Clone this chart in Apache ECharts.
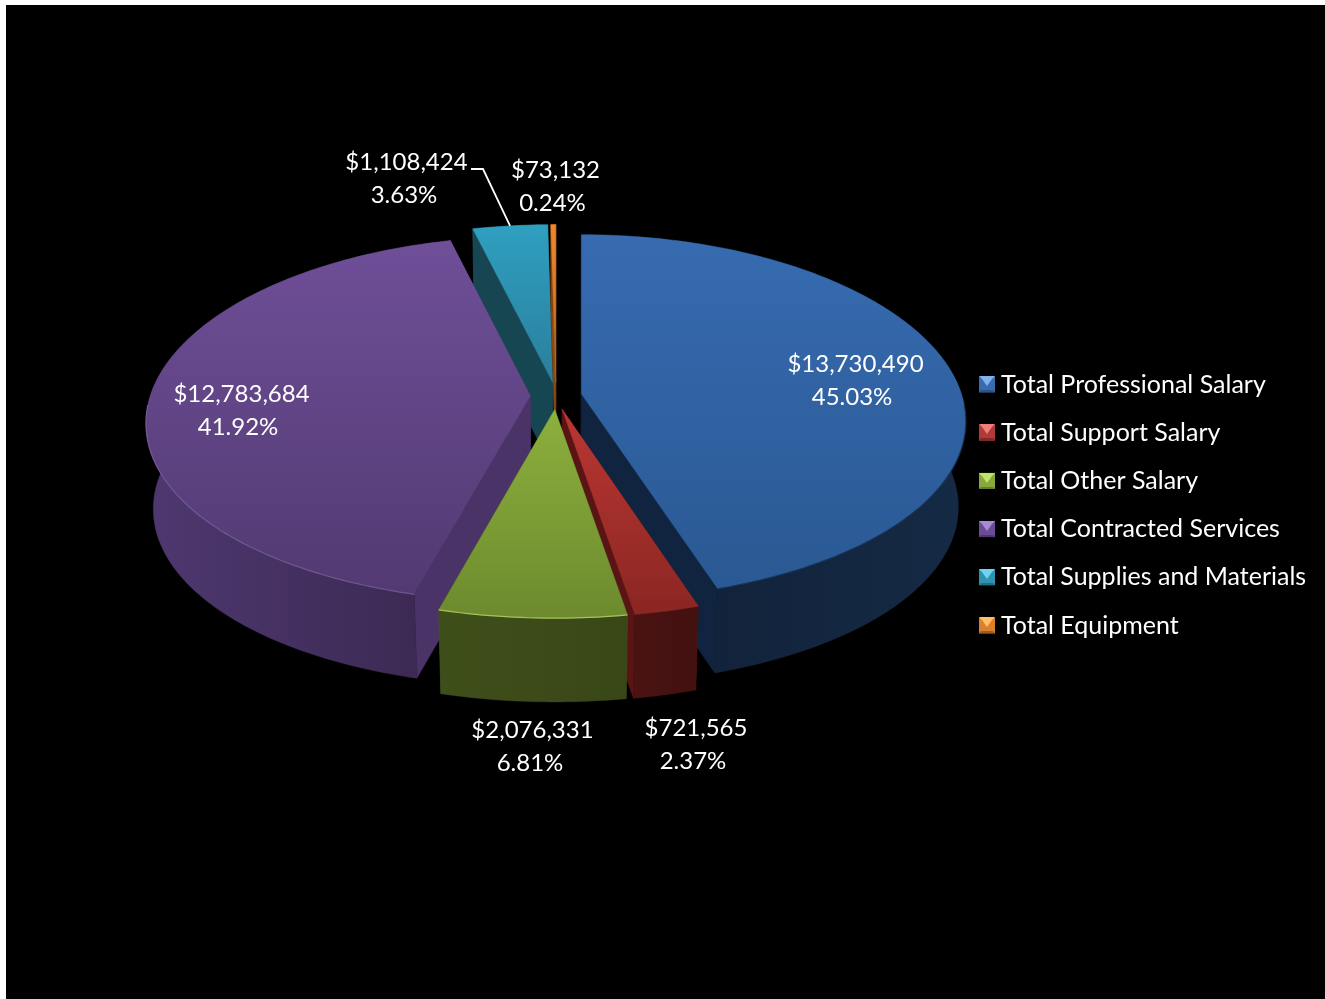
<!DOCTYPE html>
<html>
<head>
<meta charset="utf-8">
<style>
  html, body { margin: 0; padding: 0; background: #fff; }
  #chart { width: 1325px; height: 999px; }
</style>
<script src="https://cdn.jsdelivr.net/npm/echarts@6/dist/echarts.min.js"></script>
</head>
<body>
<div id="chart"></div>
<script>
// Budget categories and amounts, clockwise from twelve o'clock
const categories = [
  'Total Professional Salary',
  'Total Support Salary',
  'Total Other Salary',
  'Total Contracted Services',
  'Total Supplies and Materials',
  'Total Equipment'
];
const amounts = [13730490, 721565, 2076331, 12783684, 1108424, 73132];

// Slice colours: top face gradient, side wall gradient, cut face, rim highlight
const topColors = [
  ['#376cb2', '#295790'], ['#bb3733', '#8b2622'], ['#8db03d', '#6c8a2e'],
  ['#70509a', '#50386f'], ['#2f9fc0', '#2a7f9c'], ['#ef862a', '#b8641c']
];
const topRanges = [[226, 620], [408, 615], [408, 620], [226, 620], [226, 380], [226, 400]];
const wallColors = [
  ['#101f35', '#152a45'], ['#4a1312', '#421110'], ['#3f4f1a', '#394717'],
  ['#4e3870', '#3a2850'], ['#174552', '#174552'], ['#7f4210', '#7f4210']
];
const cutColors = ['#10243f', '#5a1413', '#4a5a1e', '#4a3366', '#174653', '#8a4a14'];
const rimColors = ['rgba(20,48,85,0.8)', null, '#a6c25a', 'rgba(132,104,171,0.65)', null, null];
const legendLight = ['#7fb2ee', '#ef7f7a', '#c3e26c', '#a98bd2', '#6fd4ee', '#ffc066'];
const legendMid = ['#3a6cad', '#b03a37', '#87a83c', '#6a4c92', '#2f93ae', '#d9812e'];
const legendDark = ['#2c5484', '#842928', '#64802c', '#4d376c', '#216d83', '#a15c1d'];

// Order in which slices are painted, far ones first
const paintOrder = [4, 5, 3, 0, 1, 2];

// Label placement: [value line x, y, percent line x, y]
const labelLayout = [
  [855.5, 364, 852, 397],
  [696, 728, 693, 761],
  [532.5, 730, 530, 763],
  [241.5, 394, 238, 427],
  [406.5, 162, 404, 195],
  [555.5, 170, 552.5, 203]
];
const leaderStart = [[471, 169], [483, 169]];

// Perspective model of the tilted disc; slices are pulled out by a screen offset
const view = {
  cx: 556, cy: 396, rx: 380, ry: 180, perspX: 0.15, perspY: 0.129,
  pullX: 25.7, pullY: 13.5, depth: 86, sinkX: 0.982, sinkY: 0.99
};
const LABEL_FONT = '24px Lato, "Open Sans", sans-serif';

const total = amounts.reduce((a, b) => a + b, 0);
const shares = amounts.map(v => v / total);

// u, v lie on the unit disc; dx, dy is the slice's pull-out in pixels
function project(u, v, dx, dy, bottom) {
  let x = view.cx + dx + view.rx * u / (1 - view.perspX * v);
  let y = view.cy + (view.ry * v + dy) / (1 - view.perspY * v);
  if (bottom) {
    x = view.cx + (x - view.cx) * view.sinkX;
    y = view.cy + (y - view.cy) * view.sinkY + view.depth;
  }
  return [x, y];
}

function sliceGeometry(i) {
  const before = shares.slice(0, i).reduce((a, b) => a + b, 0);
  const t0 = before * 2 * Math.PI;
  const t1 = (before + shares[i]) * 2 * Math.PI;
  const mid = (t0 + t1) / 2;
  const dx = Math.sin(mid) * view.pullX;
  const dy = -Math.cos(mid) * view.pullY;
  const n = Math.max(2, Math.ceil((t1 - t0) / (Math.PI / 180)));
  const arcTop = [], arcBottom = [], frontArc = [];
  for (let k = 0; k <= n; k++) {
    const t = t0 + (t1 - t0) * k / n;
    const u = Math.sin(t), v = -Math.cos(t);
    const p = project(u, v, dx, dy, false);
    arcTop.push(p);
    arcBottom.push(project(u, v, dx, dy, true));
    if (v > 0.05) frontArc.push(p);
  }
  return {
    apexTop: project(0, 0, dx, dy, false),
    apexBottom: project(0, 0, dx, dy, true),
    arcTop, arcBottom, frontArc,
    midPoint: project(Math.sin(mid), -Math.cos(mid), dx, dy, false)
  };
}

function linear(x0, y0, x1, y1, stops) {
  return {
    type: 'linear', x: x0, y: y0, x2: x1, y2: y1, global: true,
    colorStops: [{ offset: 0, color: stops[0] }, { offset: 1, color: stops[1] }]
  };
}

function polygon(points, fill) {
  return { type: 'polygon', shape: { points }, style: { fill, stroke: fill, lineWidth: 0.4 } };
}

function text(x, y, str) {
  return {
    type: 'text', z2: 50,
    style: { x, y, text: str, fill: '#fff', font: LABEL_FONT, align: 'center', verticalAlign: 'middle' }
  };
}

function makeRenderer(i) {
  return function () {
    const g = sliceGeometry(i);
    const xs = g.arcTop.map(p => p[0]);
    const children = [];
    const n = g.arcTop.length - 1;

    // Cut faces, then curved wall, then the top face on top of them
    children.push(polygon([g.apexTop, g.arcTop[0], g.arcBottom[0], g.apexBottom], cutColors[i]));
    children.push(polygon([g.apexTop, g.arcTop[n], g.arcBottom[n], g.apexBottom], cutColors[i]));
    children.push(polygon(g.arcTop.concat(g.arcBottom.slice().reverse()),
      linear(Math.min(...xs), 0, Math.max(...xs), 0, wallColors[i])));
    children.push(polygon([g.apexTop].concat(g.arcTop),
      linear(0, topRanges[i][0], 0, topRanges[i][1], topColors[i])));

    if (rimColors[i] && g.frontArc.length > 1) {
      children.push({
        type: 'polyline', shape: { points: g.frontArc },
        style: { fill: null, stroke: rimColors[i], lineWidth: 1.2 }
      });
    }

    const l = labelLayout[i];
    const dollars = '$' + amounts[i].toLocaleString('en-US');
    const percent = (shares[i] * 100).toFixed(2) + '%';
    children.push(text(l[0], l[1], dollars));
    children.push(text(l[2], l[3], percent));

    // Supplies label sits away from its slice and needs a leader
    if (i === 4) {
      children.push({
        type: 'polyline', z2: 50,
        shape: { points: leaderStart.concat([g.midPoint]) },
        style: { fill: null, stroke: '#fff', lineWidth: 1.8 }
      });
    }
    return { type: 'group', children };
  };
}

const series = categories.map((name, i) => ({
  type: 'custom',
  name,
  coordinateSystem: 'none',
  silent: true,
  z: 2 + paintOrder.indexOf(i),
  clip: false,
  itemStyle: { color: legendMid[i] },
  data: [[amounts[i]]],
  renderItem: makeRenderer(i)
}));

// Bevel on the legend swatches
const legendTop = 376;
const legendStep = 49;
const swatchRows = [376, 424, 473, 521, 569, 617];
const swatch = 16;
const bevel = [];
swatchRows.forEach((y, i) => {
  const x = 979;
  bevel.push({
    type: 'polygon', z: 20, silent: true,
    shape: { points: [[x, y], [x + swatch, y], [x + swatch - 3, y + 3], [x + swatch / 2, y + 10], [x + 3, y + 3]] },
    style: { fill: legendLight[i] }
  });
  bevel.push({
    type: 'polygon', z: 20, silent: true,
    shape: { points: [[x, y + swatch], [x + swatch, y + swatch], [x + swatch - 2, y + swatch - 2], [x + 2, y + swatch - 2]] },
    style: { fill: legendDark[i] }
  });
});

const chart = echarts.init(document.getElementById('chart'), null, { renderer: 'canvas' });
chart.setOption({
  backgroundColor: '#ffffff',
  animation: false,
  graphic: [
    { type: 'rect', z: 0, silent: true, shape: { x: 6, y: 5, width: 1319, height: 994 }, style: { fill: '#000' } }
  ].concat(bevel),
  legend: {
    orient: 'vertical',
    left: 979,
    top: legendTop - 4,
    align: 'left',
    padding: 0,
    data: categories,
    itemWidth: swatch,
    itemHeight: swatch,
    itemGap: legendStep - 25 - 0.8,
    icon: 'rect',
    selectedMode: false,
    textStyle: { color: '#fff', fontFamily: 'Lato', fontSize: 25, lineHeight: 24, padding: [0, 0, 0, 1] }
  },
  series
});
</script>
</body>
</html>
